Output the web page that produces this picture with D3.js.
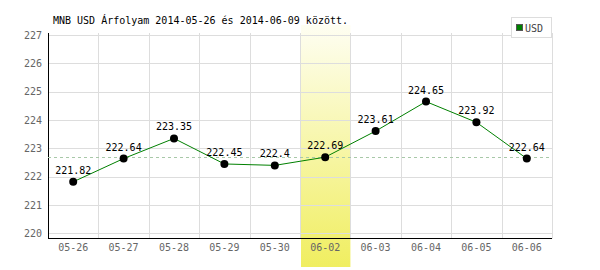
<!DOCTYPE html>
<html>
<head>
<meta charset="utf-8">
<script src="https://cdn.jsdelivr.net/npm/d3@7"></script>
<style>
  body { margin: 0; background: #fff; }
  svg { display: block; font-family: "DejaVu Sans Mono", monospace; }
</style>
</head>
<body>
<div id="chart"></div>
<script>
// ── Data ──
const dates = ["05-26", "05-27", "05-28", "05-29", "05-30", "06-02", "06-03", "06-04", "06-05", "06-06"];
const rates = [221.82, 222.64, 223.35, 222.45, 222.4, 222.69, 223.61, 224.65, 223.92, 222.64];
const yTicks = [220, 221, 222, 223, 224, 225, 226, 227];
const highlightDate = "06-02";
const refValue = 222.69;
const title = "MNB USD Árfolyam 2014-05-26 és 2014-06-09 között.";
const seriesName = "USD";

const W = 600, H = 270;
const M = { l: 48, r: 48, t: 35 };
const axisY = 238.5;

const svg = d3.select("#chart").append("svg")
  .attr("width", W).attr("height", H);

const x = d3.scaleBand().domain(dates).range([M.l, W - M.r]);
const y = d3.scaleLinear().domain([219.82, 227]).range([axisY, M.t]);

// ── Highlight band (gradient) ──
const grad = svg.append("defs").append("linearGradient")
  .attr("id", "hl").attr("x1", 0).attr("y1", 0).attr("x2", 0).attr("y2", 1);
grad.append("stop").attr("offset", "0%").attr("stop-color", "#fefef2");
grad.append("stop").attr("offset", "100%").attr("stop-color", "#f0ee60");

svg.append("rect")
  .attr("x", x(highlightDate) + 1)
  .attr("y", 25)
  .attr("width", x.bandwidth() - 1)
  .attr("height", 267 - 25)
  .attr("fill", "url(#hl)");

// ── Grid ──
const grid = svg.append("g").attr("stroke", "#dddddd").attr("stroke-width", 1);
yTicks.forEach((t) => {
  grid.append("line")
    .attr("x1", M.l).attr("x2", W - M.r)
    .attr("y1", Math.round(y(t)) + 0.5).attr("y2", Math.round(y(t)) + 0.5);
});
dates.forEach((d) => {
  const gx = Math.round(x(d) + x.bandwidth()) + 0.5;
  grid.append("line")
    .attr("x1", gx).attr("x2", gx)
    .attr("y1", 33).attr("y2", axisY);
});

// ── Axes ──
svg.append("line")
  .attr("x1", M.l + 0.5).attr("x2", M.l + 0.5)
  .attr("y1", 33).attr("y2", axisY + 0.5)
  .attr("stroke", "#000");
svg.append("line")
  .attr("x1", M.l).attr("x2", W - M.r)
  .attr("y1", axisY).attr("y2", axisY)
  .attr("stroke", "#000");

svg.append("g").selectAll("text").data(yTicks).join("text")
  .attr("x", 42).attr("y", (d) => y(d)).attr("dy", "0.35em")
  .attr("text-anchor", "end").attr("fill", "#666").attr("font-size", "10px")
  .text((d) => d);

svg.append("g").selectAll("text").data(dates).join("text")
  .attr("x", (d) => x(d) + x.bandwidth() / 2).attr("y", 251)
  .attr("text-anchor", "middle").attr("fill", "#666").attr("font-size", "10px")
  .text((d) => d);

// ── Reference line ──
svg.append("line")
  .attr("x1", M.l).attr("x2", W - M.r)
  .attr("y1", Math.round(y(refValue)) + 0.5).attr("y2", Math.round(y(refValue)) + 0.5)
  .attr("stroke", "#a8c8a8").attr("stroke-dasharray", "3,3");

// ── Series ──
const cx = (i) => x(dates[i]) + x.bandwidth() / 2;
svg.append("path")
  .datum(rates)
  .attr("d", d3.line().x((d, i) => cx(i)).y((d) => y(d)))
  .attr("fill", "none").attr("stroke", "#008000").attr("stroke-width", 1);

svg.append("g").selectAll("circle").data(rates).join("circle")
  .attr("cx", (d, i) => cx(i)).attr("cy", (d) => y(d)).attr("r", 4)
  .attr("fill", "#000");

svg.append("g").selectAll("text").data(rates).join("text")
  .attr("x", (d, i) => cx(i)).attr("y", (d) => y(d) - 8)
  .attr("text-anchor", "middle").attr("fill", "#000").attr("font-size", "10px")
  .text((d) => d);

// ── Title ──
svg.append("text")
  .attr("x", 53).attr("y", 24)
  .attr("fill", "#000").attr("font-size", "10px")
  .text(title);

// ── Legend ──
const lg = svg.append("g");
lg.append("rect")
  .attr("x", 511.5).attr("y", 17.5).attr("width", 40).attr("height", 20)
  .attr("fill", "#fff").attr("stroke", "#dddddd");
lg.append("rect")
  .attr("x", 516.5).attr("y", 24.5).attr("width", 6).attr("height", 6)
  .attr("fill", "#008000").attr("stroke", "#555");
lg.append("text")
  .attr("x", 525).attr("y", 31.5)
  .attr("fill", "#444").attr("font-size", "10px")
  .text(seriesName);
</script>
</body>
</html>
